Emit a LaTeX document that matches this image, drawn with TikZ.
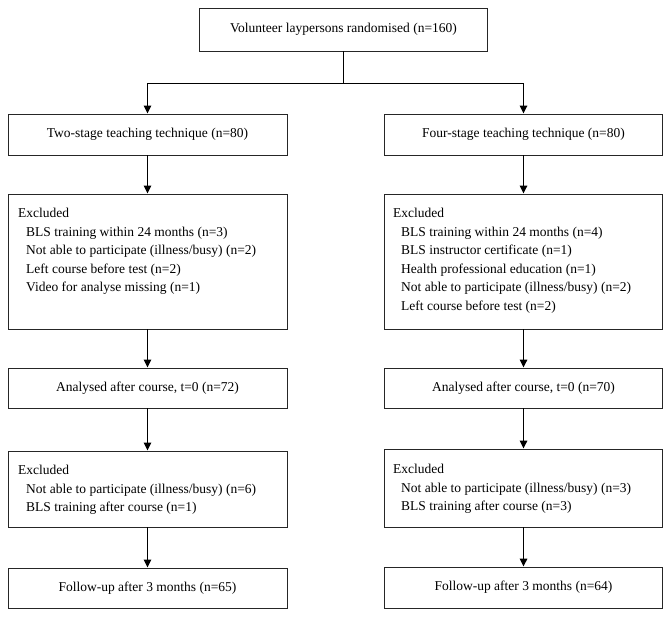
\documentclass[tikz,border=0pt]{standalone}
\usepackage{fontspec}
\setmainfont{Liberation Serif}
\usepackage{tikz}
\usetikzlibrary{arrows,arrows.meta}

\newcommand{\ind}{\hspace*{8pt}}

\begin{document}
\begin{tikzpicture}[x=1pt,y=-1pt,
    every node/.style={font=\fontsize{13.5}{18.5}\selectfont},
    box/.style={draw=black!85, line width=0.9pt, inner sep=0pt},
    txt/.style={anchor=north west, align=left, inner sep=0pt},
    flow/.style={-{Triangle[length=8pt,width=7.5pt]}, line width=1.5pt}]
  \useasboundingbox (0,0) rectangle (671,617);

  \node[box, minimum width=288, minimum height=43] (rand) at (343.5,29.5) {Volunteer laypersons randomised (n=160)};

  \node[box, minimum width=279, minimum height=41] (two) at (147.5,134.5) {Two-stage teaching technique (n=80)};
  \node[box, minimum width=278, minimum height=41] (four) at (523.5,134.5) {Four-stage teaching technique (n=80)};

  \node[box, minimum width=279, minimum height=135] (exTwo) at (147.5,261.5) {};
  \node[txt] (exTwoTxt) at (18,208) {Excluded\\
    \ind BLS training within 24 months (n=3)\\
    \ind Not able to participate (illness/busy) (n=2)\\
    \ind Left course before test (n=2)\\
    \ind Video for analyse missing (n=1)};
  \node[box, minimum width=278, minimum height=135] (exFour) at (523.5,261.5) {};
  \node[txt] (exFourTxt) at (393,208) {Excluded\\
    \ind BLS training within 24 months (n=4)\\
    \ind BLS instructor certificate (n=1)\\
    \ind Health professional education (n=1)\\
    \ind Not able to participate (illness/busy) (n=2)\\
    \ind Left course before test (n=2)};

  \node[box, minimum width=279, minimum height=40] (anTwo) at (147.5,388) {Analysed after course, t=0 (n=72)};
  \node[box, minimum width=278, minimum height=40] (anFour) at (523.5,388) {Analysed after course, t=0 (n=70)};

  \node[box, minimum width=279, minimum height=76] (exTwoB) at (147.5,489) {};
  \node[txt] (exTwoBTxt) at (18,465) {Excluded\\
    \ind Not able to participate (illness/busy) (n=6)\\
    \ind BLS training after course (n=1)};
  \node[box, minimum width=278, minimum height=78] (exFourB) at (523.5,488) {};
  \node[txt] (exFourBTxt) at (393,464) {Excluded\\
    \ind Not able to participate (illness/busy) (n=3)\\
    \ind BLS training after course (n=3)};

  \node[box, minimum width=279, minimum height=40] (fuTwo) at (147.5,588) {Follow-up after 3 months (n=65)};
  \node[box, minimum width=278, minimum height=41] (fuFour) at (523.5,587.5) {Follow-up after 3 months (n=64)};

  \draw[line width=1.5pt] (rand.south) -- ++(0,32) coordinate (split);
  \draw[flow] (split) -| (two.north);
  \draw[flow] (split) -| (four.north);

  \draw[flow] (two) -- (exTwo);
  \draw[flow] (exTwo) -- (anTwo);
  \draw[flow] (anTwo) -- (exTwoB);
  \draw[flow] (exTwoB) -- (fuTwo);

  \draw[flow] (four) -- (exFour);
  \draw[flow] (exFour) -- (anFour);
  \draw[flow] (anFour) -- (exFourB);
  \draw[flow] (exFourB) -- (fuFour);
\end{tikzpicture}
\end{document}
